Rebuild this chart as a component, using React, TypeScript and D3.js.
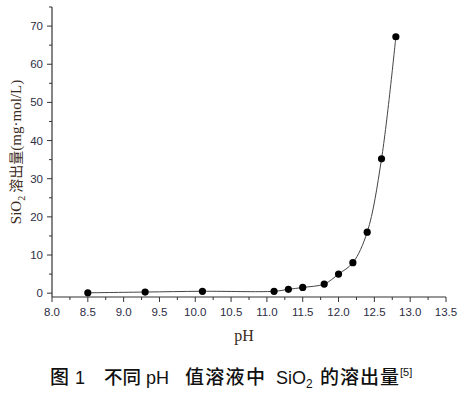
import React, { useRef, useEffect } from 'react';
import * as d3 from 'd3';

const phValues = [8.5, 9.3, 10.1, 11.1, 11.3, 11.5, 11.8, 12.0, 12.2, 12.4, 12.6, 12.8];
const sio2Values = [0.1, 0.3, 0.5, 0.5, 1.0, 1.5, 2.4, 5.0, 8.0, 16.0, 35.2, 67.2];
const xTickValues = [8.0, 8.5, 9.0, 9.5, 10.0, 10.5, 11.0, 11.5, 12.0, 12.5, 13.0, 13.5];
const yTickValues = [0, 10, 20, 30, 40, 50, 60, 70];

export default function App() {
  const svgRef = useRef<SVGSVGElement | null>(null);

  useEffect(() => {
    if (!svgRef.current) return;
    const svg = d3.select(svgRef.current);
    svg.selectAll('*').remove();

    const x = d3.scaleLinear().domain([8, 13.5]).range([52, 446]);
    const y = d3.scaleLinear().domain([-1, 75]).range([297, 7]);
    const axisColor = '#333';
    const tickFont = '"Liberation Sans", Arial, sans-serif';

    // axis lines
    svg.append('line')
      .attr('x1', x(8)).attr('x2', x(8))
      .attr('y1', y(75)).attr('y2', y(-1))
      .attr('stroke', axisColor).attr('stroke-width', 1.2);
    svg.append('line')
      .attr('x1', x(8)).attr('x2', x(13.5))
      .attr('y1', y(-1)).attr('y2', y(-1))
      .attr('stroke', axisColor).attr('stroke-width', 1.2);

    // x ticks
    const xMinor = d3.range(8.25, 13.5, 0.5);
    svg.append('g').selectAll('line').data(xTickValues).enter().append('line')
      .attr('x1', d => x(d)).attr('x2', d => x(d))
      .attr('y1', y(-1)).attr('y2', y(-1) + 5)
      .attr('stroke', axisColor);
    svg.append('g').selectAll('line').data(xMinor).enter().append('line')
      .attr('x1', d => x(d)).attr('x2', d => x(d))
      .attr('y1', y(-1)).attr('y2', y(-1) + 3)
      .attr('stroke', axisColor);
    svg.append('g').selectAll('text').data(xTickValues).enter().append('text')
      .attr('x', d => x(d)).attr('y', y(-1) + 19)
      .attr('text-anchor', 'middle')
      .attr('font-family', tickFont).attr('font-size', 11.5)
      .attr('fill', '#2d2d45')
      .text(d => d.toFixed(1));

    // y ticks
    const yMinor = d3.range(5, 80, 10);
    svg.append('g').selectAll('line').data(yTickValues).enter().append('line')
      .attr('x1', x(8) - 5).attr('x2', x(8))
      .attr('y1', d => y(d)).attr('y2', d => y(d))
      .attr('stroke', axisColor);
    svg.append('g').selectAll('line').data(yMinor).enter().append('line')
      .attr('x1', x(8) - 3).attr('x2', x(8))
      .attr('y1', d => y(d)).attr('y2', d => y(d))
      .attr('stroke', axisColor);
    svg.append('g').selectAll('text').data(yTickValues).enter().append('text')
      .attr('x', x(8) - 9).attr('y', d => y(d) + 4)
      .attr('text-anchor', 'end')
      .attr('font-family', tickFont).attr('font-size', 11.5)
      .attr('fill', '#2d2d45')
      .text(d => d);

    // data line
    const pts = phValues.map((p, i) => [p, sio2Values[i]] as [number, number]);
    const line = d3.line<[number, number]>()
      .x(d => x(d[0])).y(d => y(d[1]))
      .curve(d3.curveCatmullRom.alpha(0.5));
    svg.append('path')
      .datum(pts)
      .attr('d', line)
      .attr('fill', 'none')
      .attr('stroke', '#444')
      .attr('stroke-width', 1);
    svg.append('g').selectAll('circle').data(pts).enter().append('circle')
      .attr('cx', d => x(d[0])).attr('cy', d => y(d[1]))
      .attr('r', 3.6)
      .attr('fill', '#000');

    // axis titles
    const yLabel = svg.append('text')
      .attr('transform', 'translate(21,152) rotate(-90)')
      .attr('text-anchor', 'middle')
      .attr('font-family', '"Liberation Serif", "Noto Sans CJK SC", serif')
      .attr('font-size', 15)
      .attr('fill', '#3a2a20');
    yLabel.append('tspan').text('SiO');
    yLabel.append('tspan').attr('font-size', 10).attr('dy', 4).text('2');
    yLabel.append('tspan').attr('dy', -4).attr('font-family', '"Noto Sans CJK SC", sans-serif').attr('font-size', 14).text(' 溶出量');
    yLabel.append('tspan').text('(mg·mol/L)');

    svg.append('text')
      .attr('x', 244).attr('y', 341)
      .attr('text-anchor', 'middle')
      .attr('font-family', '"Liberation Serif", serif')
      .attr('font-size', 16)
      .attr('fill', '#3a2a20')
      .text('pH');

    // caption
    const cjk = '"Noto Sans CJK SC", sans-serif';
    const lat = '"Liberation Sans", Arial, sans-serif';
    const cap = svg.append('text')
      .attr('y', 384)
      .attr('fill', '#111');
    const part = (text: string, xp: number, font: string, size: number, weight: number, ls = 0) =>
      cap.append('tspan').attr('x', xp).attr('font-family', font)
        .attr('font-size', size).attr('font-weight', weight)
        .attr('letter-spacing', ls).text(text);
    part('图', 50, cjk, 19, 500);
    part('1', 75, lat, 18, 400);
    part('不同', 104, cjk, 18.5, 500);
    part('pH', 146, lat, 18, 400);
    part('值溶液中', 185, cjk, 19, 500, 1.3);
    part('SiO', 276, lat, 18, 400);
    cap.append('tspan').attr('font-family', lat).attr('font-size', 12).attr('dy', 4).text('2');
    part('的溶出量', 320, cjk, 19, 500, 1).attr('dy', -4);
    cap.append('tspan').attr('font-family', lat).attr('font-size', 11).attr('dy', -8).text('[5]');
  }, []);

  return (
    <div style={{ position: 'absolute', left: 0, top: 0, width: 464, height: 393, background: '#fff' }}>
      <svg ref={svgRef} width={464} height={393} />
    </div>
  );
}
